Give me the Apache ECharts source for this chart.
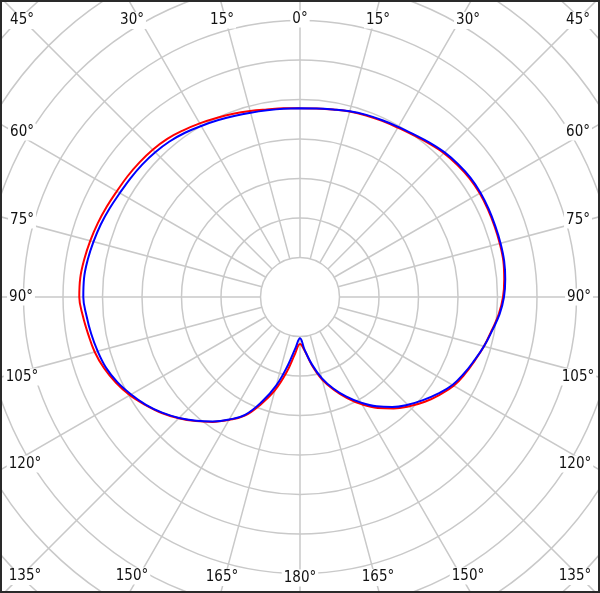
<!DOCTYPE html>
<html>
<head>
<meta charset="utf-8">
<script src="https://cdn.jsdelivr.net/npm/echarts@6/dist/echarts.min.js"></script>
<style>
  html, body { margin: 0; padding: 0; background: #fff; }
  #chart { width: 600px; height: 593px; }
</style>
</head>
<body>
<div id="chart"></div>
<script>
// Angles (degrees, clockwise from top), every 5 degrees
const angles = [0,5,10,15,20,25,30,35,40,45,50,55,60,65,70,75,80,85,90,95,100,105,110,115,120,125,130,135,140,145,150,155,160,165,170,175,180,
                185,190,195,200,205,210,215,220,225,230,235,240,245,250,255,260,265,270,275,280,285,290,295,300,305,310,315,320,325,330,335,340,345,350,355,360];
// Red curve radial values (one per angle)
const redValues = [18.89,18.95,19.09,19.30,19.46,19.59,19.75,20.00,20.38,20.76,21.01,21.20,21.27,21.24,21.20,21.18,21.14,20.95,20.70,20.25,19.62,19.11,18.54,18.04,17.47,16.58,15.63,14.56,13.42,12.15,10.70,9.11,7.47,5.82,3.80,1.84,0.95,
                   2.22,4.62,7.22,9.43,11.58,12.97,14.30,15.51,16.71,17.85,18.86,19.87,20.70,21.39,21.90,22.22,22.59,22.94,22.92,22.72,22.49,22.25,22.00,21.77,21.65,21.52,21.37,21.14,20.76,20.38,20.00,19.68,19.37,19.11,18.99,18.89];
// Blue curve radial values (one per angle)
const blueValues = [18.89,18.96,19.11,19.35,19.53,19.68,19.87,20.13,20.51,20.89,21.14,21.33,21.38,21.35,21.30,21.28,21.24,21.08,20.82,20.35,19.68,19.11,18.48,17.91,17.28,16.33,15.32,14.30,13.19,11.90,10.44,8.92,7.32,5.63,3.66,1.71,0.23,
                    1.46,3.73,6.58,9.11,11.46,12.91,14.24,15.44,16.65,17.78,18.80,19.68,20.51,21.14,21.52,21.84,22.13,22.43,22.44,22.28,22.06,21.84,21.58,21.33,21.20,21.08,20.92,20.70,20.38,20.00,19.68,19.37,19.14,18.99,18.92,18.89];
// Angle tick labels (right side, mirrored on the left)
const angleLabels = ['0°','15°','30°','45°','60°','75°','90°','105°','120°','135°','150°','165°','180°'];

// Layout: label centres for the right-hand labels (left side mirrored)
const labelLayout = [[300,19],[378,20],[468,20.5],[578,20.5],[578,132],[578,220],[579,297],[578,377],[575,464],[575,576.5],[468,576],[378,577.5],[300,578]];

function hasFont(name) {
  const c = document.createElement('canvas').getContext('2d');
  const s = 'mmmwwwlli 0123456789°';
  c.font = '40px monospace';
  const a = c.measureText(s).width;
  c.font = '40px "' + name + '", monospace';
  return c.measureText(s).width !== a;
}
const labelFont = hasFont('DejaVu Sans Condensed')
  ? '15px "DejaVu Sans Condensed", sans-serif'
  : '15px "Liberation Sans", Arial, sans-serif';

const chart = echarts.init(document.getElementById('chart'), null, {renderer: 'canvas'});

const gridColor = '#c9c9c9';
const texts = [];
angleLabels.forEach((t, i) => {
  const [x, y] = labelLayout[i];
  const mk = (xx) => ({
    type: 'text', x: xx, y: y, z: 50,
    style: {
      text: t, fill: '#111', font: labelFont,
      align: 'center', verticalAlign: 'middle',
      backgroundColor: '#fff', padding: [1, 2, 1, 2]
    }
  });
  texts.push(mk(x));
  if (i > 0 && i < angleLabels.length - 1) texts.push(mk(600 - x));
});

const toData = (vals) => vals.map((v, i) => [v, angles[i]]);

chart.setOption({
  animation: false,
  backgroundColor: '#fff',
  polar: { center: [300, 297], radius: [39.5, 434.5] },
  angleAxis: {
    type: 'value', min: 0, max: 360, interval: 15,
    startAngle: 90, clockwise: true,
    axisLine: { show: false }, axisTick: { show: false }, axisLabel: { show: false },
    splitLine: { show: true, lineStyle: { color: gridColor, width: 1.5 } }
  },
  radiusAxis: {
    type: 'value', min: 0, max: 50, interval: 5,
    axisLine: { show: false }, axisTick: { show: false }, axisLabel: { show: false },
    splitLine: { show: true, lineStyle: { color: gridColor, width: 1.5 } }
  },
  series: [
    { type: 'line', coordinateSystem: 'polar', data: toData(redValues), showSymbol: false,
      smooth: 0.4, lineStyle: { color: '#ff0000', width: 2 }, z: 3 },
    { type: 'line', coordinateSystem: 'polar', data: toData(blueValues), showSymbol: false,
      smooth: 0.4, lineStyle: { color: '#0000ff', width: 2 }, z: 4 }
  ],
  graphic: texts.concat([{
    type: 'rect', z: 100, silent: true,
    shape: { x: 1, y: 1, width: 598, height: 591 },
    style: { fill: 'none', stroke: '#2a2a2a', lineWidth: 2 }
  }])
});
</script>
</body>
</html>
